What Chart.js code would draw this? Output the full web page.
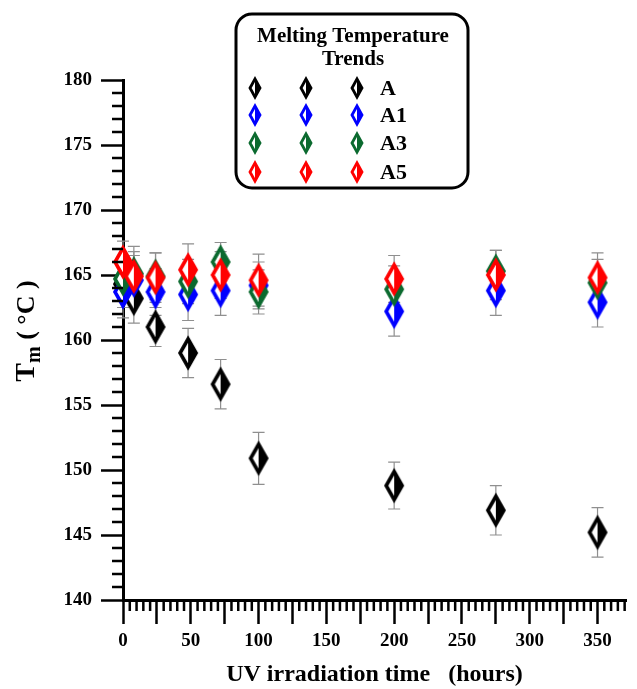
<!DOCTYPE html>
<html>
<head>
<meta charset="utf-8">
<title>Melting Temperature Trends</title>
<script src="https://cdn.jsdelivr.net/npm/chart.js@4.4.1/dist/chart.umd.min.js"></script>
<style>
  html, body { margin: 0; padding: 0; background: #fff; }
  #wrap { width: 637px; height: 689px; }
</style>
</head>
<body>
<div id="wrap"><canvas id="tmChart" width="637" height="689"></canvas></div>
<script>
// UV exposure times (hours)
const hours = [0, 8, 24, 48, 72, 100, 200, 275, 350];

// Melting temperature (°C) per sample
const tmA  = [164.3, 163.2, 161.0, 159.0, 156.6, 150.9, 148.8, 146.9, 145.2];
const tmA1 = [163.7, 164.6, 163.7, 163.5, 163.8, 164.2, 162.2, 163.8, 162.9];
const tmA3 = [164.7, 165.1, 164.9, 164.5, 166.0, 163.7, 163.9, 165.3, 164.4];
const tmA5 = [166.0, 164.9, 164.8, 165.4, 165.0, 164.6, 164.7, 165.0, 164.8];

// Standard deviations
const errA  = [1.8, 1.9, 1.5, 1.9, 1.9, 2.0, 1.8, 1.9, 1.9];
const errA1 = [2.0, 1.9, 1.8, 2.0, 1.9, 1.8, 1.9, 1.9, 1.9];
const errA3 = [1.6, 2.1, 1.8, 1.7, 1.5, 1.7, 1.8, 1.6, 1.8];
const errA5 = [1.6, 1.9, 1.9, 2.0, 1.8, 2.0, 1.8, 1.9, 1.9];

const sampleNames = ['A', 'A1', 'A3', 'A5'];
const sampleColors = ['#000000', '#0000ff', '#0b6a2f', '#ff0000'];

const SERIF = '"Liberation Serif", "Times New Roman", serif';

// Half-open diamond: left half white, right half solid
function diamondMarker(color, w, h, lw) {
    const pad = 8;
    const c = document.createElement('canvas');
    c.width = w + pad * 2;
    c.height = h + pad * 2;
    const ctx = c.getContext('2d');
    const cx = c.width / 2, cy = c.height / 2;

    ctx.beginPath();
    ctx.moveTo(cx, cy - h / 2);
    ctx.lineTo(cx - w / 2, cy);
    ctx.lineTo(cx, cy + h / 2);
    ctx.closePath();
    ctx.fillStyle = '#fff';
    ctx.fill();

    ctx.beginPath();
    ctx.moveTo(cx, cy - h / 2);
    ctx.lineTo(cx + w / 2, cy);
    ctx.lineTo(cx, cy + h / 2);
    ctx.closePath();
    ctx.fillStyle = color;
    ctx.fill();

    ctx.beginPath();
    ctx.moveTo(cx, cy - h / 2);
    ctx.lineTo(cx + w / 2, cy);
    ctx.lineTo(cx, cy + h / 2);
    ctx.lineTo(cx - w / 2, cy);
    ctx.closePath();
    ctx.lineWidth = lw;
    ctx.strokeStyle = color;
    ctx.lineJoin = 'miter';
    ctx.stroke();
    return c;
}

const tmSeries = [tmA, tmA1, tmA3, tmA5];
const errSeries = [errA, errA1, errA3, errA5];

// later samples sit on top (lower order is drawn last)
const datasets = sampleNames.map((name, i) => ({
    label: name,
    data: hours.map((h, j) => ({ x: h, y: tmSeries[i][j] })),
    errors: errSeries[i],
    pointStyle: diamondMarker(sampleColors[i], 16, 28, 3.6),
    legendMarker: diamondMarker(sampleColors[i], 10, 18, 2.8),
    color: sampleColors[i],
    order: sampleNames.length - i,
    showLine: false,
    clip: false
}));

// Grey error bars with caps, drawn underneath the markers
const errorBars = {
    id: 'errorBars',
    beforeDatasetsDraw(chart) {
        const { ctx, scales: { x, y } } = chart;
        ctx.save();
        ctx.strokeStyle = '#8f8f8f';
        ctx.lineWidth = 1.2;
        chart.data.datasets.forEach(ds => {
            ds.data.forEach((p, j) => {
                const px = x.getPixelForValue(p.x);
                const top = y.getPixelForValue(p.y + ds.errors[j]);
                const bot = y.getPixelForValue(p.y - ds.errors[j]);
                ctx.beginPath();
                ctx.moveTo(px, top); ctx.lineTo(px, bot);
                ctx.moveTo(px - 6, top); ctx.lineTo(px + 6, top);
                ctx.moveTo(px - 6, bot); ctx.lineTo(px + 6, bot);
                ctx.stroke();
            });
        });
        ctx.restore();
    }
};

// Minor tick marks on both axes
const minorTicks = {
    id: 'minorTicks',
    afterDraw(chart) {
        const { ctx, chartArea, scales: { x, y } } = chart;
        ctx.save();
        ctx.strokeStyle = '#000';
        ctx.lineWidth = 2.5;
        ctx.beginPath();
        for (let v = y.min; v <= y.max; v += 1) {
            if (v % 5 === 0) continue;
            const py = y.getPixelForValue(v);
            ctx.moveTo(chartArea.left, py);
            ctx.lineTo(chartArea.left - 11, py);
        }
        for (let v = 5; v <= x.max; v += 5) {
            if (v % 25 === 0) continue;
            const px = x.getPixelForValue(v);
            ctx.moveTo(px, chartArea.bottom);
            ctx.lineTo(px, chartArea.bottom + 11);
        }
        ctx.stroke();
        ctx.restore();
    }
};

// Y axis title with subscript
const yTitle = {
    id: 'yTitle',
    afterDraw(chart) {
        const { ctx } = chart;
        const parts = [
            { t: 'T', size: 28, dy: 0 },
            { t: 'm', size: 20, dy: 6 },
            { t: ' ( \u00B0C )', size: 26, dy: 0 }
        ];
        ctx.save();
        let total = 0;
        parts.forEach(p => {
            ctx.font = 'bold ' + p.size + 'px ' + SERIF;
            p.w = ctx.measureText(p.t).width;
            total += p.w;
        });
        ctx.translate(34, 331);
        ctx.rotate(-Math.PI / 2);
        ctx.fillStyle = '#000';
        ctx.textBaseline = 'alphabetic';
        let cx = -total / 2;
        parts.forEach(p => {
            ctx.font = 'bold ' + p.size + 'px ' + SERIF;
            ctx.fillText(p.t, cx, p.dy);
            cx += p.w;
        });
        ctx.restore();
    }
};

// Boxed legend: three markers per sample, then the name
const boxLegend = {
    id: 'boxLegend',
    afterDraw(chart) {
        const { ctx } = chart;
        const bx = 236, by = 14, bw = 232, bh = 174;
        ctx.save();
        ctx.beginPath();
        ctx.roundRect(bx, by, bw, bh, 16);
        ctx.fillStyle = '#fff';
        ctx.fill();
        ctx.lineWidth = 3;
        ctx.strokeStyle = '#000';
        ctx.stroke();

        ctx.fillStyle = '#000';
        ctx.textAlign = 'center';
        ctx.textBaseline = 'middle';
        ctx.font = 'bold 21px ' + SERIF;
        ctx.fillText('Melting Temperature', 353, 37);
        ctx.fillText('Trends', 353, 60);

        ctx.textAlign = 'left';
        ctx.font = 'bold 22px ' + SERIF;
        const rowY = [88, 115, 143, 172];
        const markX = [255, 306, 357];
        chart.data.datasets.forEach((ds, i) => {
            const m = ds.legendMarker;
            markX.forEach(mx => {
                ctx.drawImage(m, mx - m.width / 2, rowY[i] - m.height / 2);
            });
            ctx.fillText(ds.label, 380, rowY[i] + 1);
        });
        ctx.restore();
    }
};

const ctx = document.getElementById('tmChart').getContext('2d');
const tmChart = new Chart(ctx, {
    type: 'scatter',
    data: { datasets: datasets },
    options: {
        responsive: false,
        animation: false,
        layout: { padding: { top: 80, right: 0, bottom: 0, left: 0 } },
        elements: { point: { radius: 10, hoverRadius: 10 } },
        plugins: {
            legend: { display: false },
            tooltip: { enabled: false }
        },
        scales: {
            x: {
                type: 'linear',
                min: 0,
                max: 371,
                afterFit: scale => { scale.height = 89; },
                border: { color: '#000', width: 3 },
                grid: {
                    drawOnChartArea: false,
                    drawTicks: true,
                    tickLength: 24,
                    tickWidth: 2.5,
                    tickColor: '#000'
                },
                ticks: {
                    stepSize: 25,
                    includeBounds: false,
                    autoSkip: false,
                    maxRotation: 0,
                    padding: 6,
                    color: '#000',
                    font: { family: SERIF, size: 19, weight: 'bold' },
                    callback: v => (v % 50 === 0 ? v : '')
                },
                title: {
                    display: true,
                    text: 'UV irradiation time   (hours)',
                    color: '#000',
                    padding: { top: 7, bottom: 0 },
                    font: { family: SERIF, size: 24, weight: 'bold' }
                }
            },
            y: {
                min: 140,
                max: 180,
                afterFit: scale => { scale.width = 123; },
                border: { color: '#000', width: 3 },
                grid: {
                    drawOnChartArea: false,
                    drawTicks: true,
                    tickLength: 22,
                    tickWidth: 2.5,
                    tickColor: '#000'
                },
                ticks: {
                    stepSize: 5,
                    padding: 9,
                    color: '#000',
                    font: { family: SERIF, size: 19, weight: 'bold' }
                }
            }
        }
    },
    plugins: [errorBars, minorTicks, yTitle, boxLegend]
});
</script>
</body>
</html>
